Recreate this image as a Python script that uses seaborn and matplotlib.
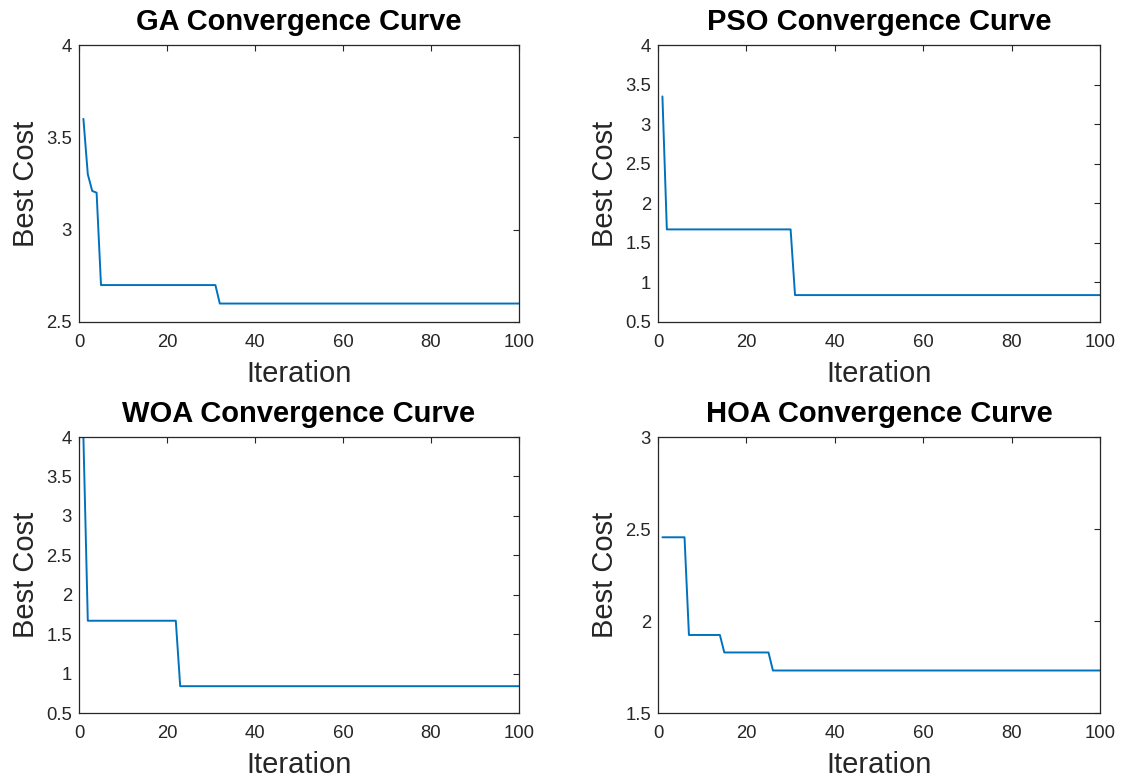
import numpy as np
import pandas as pd
import matplotlib
matplotlib.use("Agg")
import matplotlib.pyplot as plt
from matplotlib.ticker import FormatStrFormatter, MultipleLocator
import seaborn as sns

# Best cost per iteration, stored as plateau values and the number of
# iterations each plateau lasts (100 iterations per algorithm).
ga_values = [3.6, 3.3, 3.21, 3.2, 2.7, 2.6]
ga_runs = [1, 1, 1, 1, 27, 69]

pso_values = [3.35, 1.67, 0.84]
pso_runs = [1, 29, 70]

woa_values = [4.0, 1.67, 0.84]
woa_runs = [1, 21, 78]

hoa_values = [2.455, 1.924, 1.829, 1.731]
hoa_runs = [6, 8, 11, 75]

algorithms = ["GA", "PSO", "WOA", "HOA"]
y_limits = [(2.5, 4), (0.5, 4), (0.5, 4), (1.5, 3)]
x_ticks = [0, 20, 40, 60, 80, 100]

sns.set_theme(style="white")
plt.rcParams["font.family"] = ["Liberation Sans", "DejaVu Sans"]

TEXT = "#262626"
LINE = "#0072BD"

series = [(ga_values, ga_runs), (pso_values, pso_runs),
          (woa_values, woa_runs), (hoa_values, hoa_runs)]

frames = []
for name, (vals, runs) in zip(algorithms, series):
    cost = np.repeat(vals, runs)
    frames.append(pd.DataFrame({
        "Algorithm": name,
        "Iteration": np.arange(1, len(cost) + 1),
        "Best Cost": cost,
    }))
data = pd.concat(frames, ignore_index=True)

fig = plt.figure(figsize=(11.23, 7.80), dpi=100)
W, H = 1123, 780
# axes boxes in pixels: left, right, top, bottom
boxes = [(79, 519, 45, 322), (658, 1100, 45, 322),
         (79, 519, 437, 713), (658, 1100, 437, 713)]

for name, (l, r, t, b), ylim in zip(algorithms, boxes, y_limits):
    ax = fig.add_axes([l / W, (H - b) / H, (r - l) / W, (b - t) / H])
    sub = data[data["Algorithm"] == name]
    sns.lineplot(data=sub, x="Iteration", y="Best Cost", ax=ax,
                 color=LINE, linewidth=1.4)
    ax.set_xlim(0, 100)
    ax.set_ylim(*ylim)
    ax.set_xticks(x_ticks)
    ax.yaxis.set_major_locator(MultipleLocator(0.5))
    ax.xaxis.set_major_formatter(FormatStrFormatter("%g"))
    ax.yaxis.set_major_formatter(FormatStrFormatter("%g"))
    ax.tick_params(axis="both", direction="in", length=4, width=0.8,
                   top=True, right=True, labelsize=13.3, colors=TEXT,
                   color="#262626")
    ax.tick_params(axis="x", pad=8.5)
    ax.tick_params(axis="y", pad=5)
    for sp in ax.spines.values():
        sp.set_visible(True)
        sp.set_color("#262626")
        sp.set_linewidth(0.9)
    ax.set_xlabel("Iteration", fontsize=21, color=TEXT, labelpad=6.5)
    ax.set_ylabel("Best Cost", fontsize=21, color=TEXT, labelpad=4.5)
    ax.set_title(f"{name} Convergence Curve", fontsize=21,
                 fontweight="bold", color="black", pad=10.5)
    ax.grid(False)

fig.savefig("out.png", dpi=100, facecolor="white")
